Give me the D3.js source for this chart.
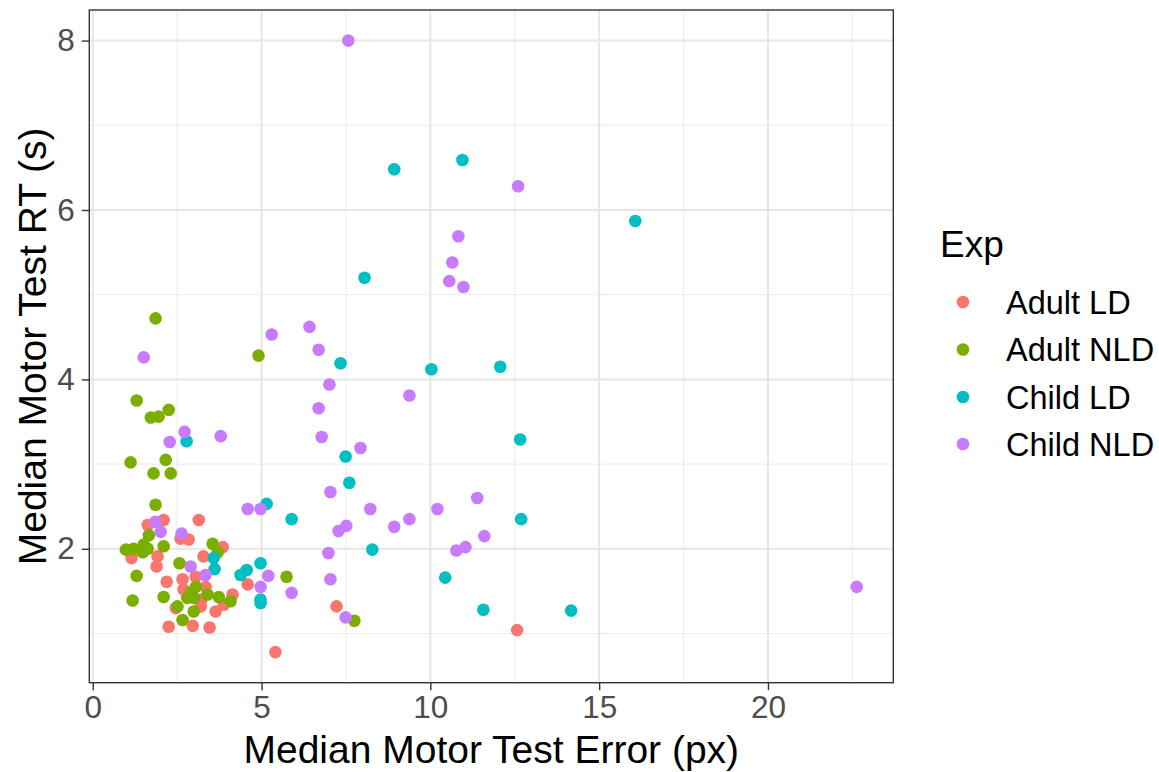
<!DOCTYPE html>
<html>
<head>
<meta charset="utf-8">
<script src="https://cdn.jsdelivr.net/npm/d3@7"></script>
<style>
  body { margin: 0; background: #fff; }
  text { font-family: "Liberation Sans", Arial, Helvetica, sans-serif; }
</style>
</head>
<body>
<div id="chart"></div>
<script>
// groups and colours (ggplot default hue palette)
const groups = ['Adult LD', 'Adult NLD', 'Child LD', 'Child NLD'];
const colors = ['#F8766D', '#7CAE00', '#00BFC4', '#C77CFF'];

// median motor test error (px) / RT (s)
const adultLD_x = [1.63, 2.10, 3.14, 2.60, 2.84, 1.15, 1.92, 1.89, 2.19, 2.66, 3.05, 3.34, 2.69, 4.14,
  3.88, 3.64, 2.46, 3.20, 2.25, 2.96, 3.46, 3.85, 3.28, 4.59, 5.41, 7.22, 12.57, 3.22];
const adultLD_y = [2.28, 2.34, 2.34, 2.12, 2.11, 1.89, 1.91, 1.79, 1.61, 1.64, 1.67, 1.55, 1.52, 1.46,
  1.34, 1.26, 1.30, 1.32, 1.08, 1.09, 1.07, 2.02, 1.91, 1.58, 0.78, 1.32, 1.04, 1.40];

const adultNLD_x = [1.86, 4.91, 1.30, 1.72, 1.95, 2.25, 1.12, 2.16, 1.80, 2.31, 1.86, 1.66, 0.98, 1.21,
  1.48, 1.63, 1.51, 2.10, 1.30, 1.18, 2.10, 2.57, 3.05, 2.90, 2.80, 3.00, 3.40, 3.73, 4.08, 2.51,
  2.99, 2.66, 3.55, 3.70, 5.74, 7.75];
const adultNLD_y = [4.72, 4.28, 3.75, 3.55, 3.56, 3.64, 3.02, 3.05, 2.89, 2.89, 2.52, 2.16, 1.99, 2.00,
  1.96, 2.00, 2.05, 2.03, 1.68, 1.39, 1.43, 1.83, 1.55, 1.48, 1.42, 1.42, 1.46, 1.43, 1.38, 1.32,
  1.26, 1.16, 2.06, 1.96, 1.67, 1.15];

const childLD_x = [8.93, 10.95, 16.07, 8.05, 7.34, 10.03, 12.07, 12.66, 2.78, 7.49, 7.60, 5.15, 5.89,
  12.69, 8.28, 10.44, 11.57, 14.17, 3.58, 3.61, 4.38, 4.56, 4.97, 4.97, 4.97];
const childLD_y = [6.48, 6.59, 5.87, 5.20, 4.19, 4.12, 4.15, 3.29, 3.27, 3.09, 2.78, 2.53, 2.35,
  2.35, 1.99, 1.66, 1.28, 1.27, 1.89, 1.76, 1.69, 1.75, 1.83, 1.40, 1.36];

const childNLD_x = [7.57, 12.60, 10.83, 10.65, 10.56, 10.98, 6.42, 5.30, 6.69, 1.51, 7.01, 9.38, 6.69,
  2.72, 3.79, 6.78, 2.28, 7.93, 7.04, 11.39, 4.59, 4.97, 8.22, 10.21, 9.38, 1.86, 7.51, 8.93, 7.28,
  2.01, 2.63, 11.60, 11.04, 10.77, 6.98, 2.90, 3.34, 5.20, 7.04, 4.97, 5.89, 7.49, 22.63];
const childNLD_y = [8.00, 6.28, 5.69, 5.38, 5.16, 5.09, 4.62, 4.53, 4.35, 4.26, 3.94, 3.81, 3.66,
  3.38, 3.33, 3.32, 3.26, 3.19, 2.67, 2.60, 2.47, 2.47, 2.47, 2.47, 2.35, 2.32, 2.27, 2.26, 2.21,
  2.20, 2.18, 2.15, 2.02, 1.98, 1.95, 1.79, 1.69, 1.68, 1.64, 1.55, 1.48, 1.19, 1.55];

const xTicks = [0, 5, 10, 15, 20];
const yTicks = [2, 4, 6, 8];
const xMinor = [2.5, 7.5, 12.5, 17.5, 22.5];
const yMinor = [1, 3, 5, 7];

// build rows
const seriesX = [adultLD_x, adultNLD_x, childLD_x, childNLD_x];
const seriesY = [adultLD_y, adultNLD_y, childLD_y, childNLD_y];
const data = [];
groups.forEach((g, i) => {
  seriesX[i].forEach((x, j) => data.push({ exp: g, x: x, y: seriesY[i][j] }));
});

const width = 1159, height = 772;
const panel = { left: 89.3, right: 893.3, top: 10, bottom: 682.7 };

const svg = d3.select('#chart').append('svg')
  .attr('width', width)
  .attr('height', height);

// ggplot style 5% expansion
function expand(ext) {
  const pad = (ext[1] - ext[0]) * 0.05;
  return [ext[0] - pad, ext[1] + pad];
}

const xScale = d3.scaleLinear()
  .domain(expand(d3.extent(data, d => d.x)))
  .range([panel.left, panel.right]);
const yScale = d3.scaleLinear()
  .domain(expand(d3.extent(data, d => d.y)))
  .range([panel.bottom, panel.top]);
const colorScale = d3.scaleOrdinal().domain(groups).range(colors);

// panel background
svg.append('rect')
  .attr('x', panel.left).attr('y', panel.top)
  .attr('width', panel.right - panel.left)
  .attr('height', panel.bottom - panel.top)
  .attr('fill', '#fff');

// grid lines
const grid = svg.append('g');
grid.selectAll('.xminor').data(xMinor).enter().append('line')
  .attr('x1', d => xScale(d)).attr('x2', d => xScale(d))
  .attr('y1', panel.top).attr('y2', panel.bottom)
  .attr('stroke', '#EBEBEB').attr('stroke-width', 1);
grid.selectAll('.yminor').data(yMinor).enter().append('line')
  .attr('y1', d => yScale(d)).attr('y2', d => yScale(d))
  .attr('x1', panel.left).attr('x2', panel.right)
  .attr('stroke', '#EBEBEB').attr('stroke-width', 1);
grid.selectAll('.xmajor').data(xTicks).enter().append('line')
  .attr('x1', d => xScale(d)).attr('x2', d => xScale(d))
  .attr('y1', panel.top).attr('y2', panel.bottom)
  .attr('stroke', '#E6E6E6').attr('stroke-width', 2);
grid.selectAll('.ymajor').data(yTicks).enter().append('line')
  .attr('y1', d => yScale(d)).attr('y2', d => yScale(d))
  .attr('x1', panel.left).attr('x2', panel.right)
  .attr('stroke', '#E6E6E6').attr('stroke-width', 2);

// points
svg.append('g').selectAll('circle')
  .data(data)
  .enter().append('circle')
    .attr('cx', d => xScale(d.x))
    .attr('cy', d => yScale(d.y))
    .attr('r', 6.3)
    .attr('fill', d => colorScale(d.exp));

// panel border
svg.append('rect')
  .attr('x', panel.left).attr('y', panel.top)
  .attr('width', panel.right - panel.left)
  .attr('height', panel.bottom - panel.top)
  .attr('fill', 'none')
  .attr('stroke', '#333333')
  .attr('stroke-width', 1.4);

// axes
const xAxis = d3.axisBottom(xScale).tickValues(xTicks).tickSize(7.5).tickPadding(5);
const yAxis = d3.axisLeft(yScale).tickValues(yTicks).tickSize(7.5).tickPadding(7);

const gx = svg.append('g')
  .attr('transform', `translate(0,${panel.bottom})`)
  .call(xAxis);
const gy = svg.append('g')
  .attr('transform', `translate(${panel.left},0)`)
  .call(yAxis);

[gx, gy].forEach(g => {
  g.select('.domain').remove();
  g.selectAll('.tick line').attr('stroke', '#333333').attr('stroke-width', 1.4);
  g.selectAll('.tick text')
    .attr('fill', '#4D4D4D')
    .style('font-size', '31.5px');
});

// axis titles
svg.append('text')
  .attr('x', (panel.left + panel.right) / 2)
  .attr('y', 763)
  .attr('text-anchor', 'middle')
  .style('font-size', '39px')
  .attr('fill', '#000')
  .text('Median Motor Test Error (px)');

svg.append('text')
  .attr('transform', `translate(46,${(panel.top + panel.bottom) / 2}) rotate(-90)`)
  .attr('text-anchor', 'middle')
  .style('font-size', '39px')
  .attr('fill', '#000')
  .text('Median Motor Test RT (s)');

// legend
const legend = svg.append('g');
legend.append('text')
  .attr('x', 940)
  .attr('y', 257)
  .style('font-size', '37px')
  .text('Exp');

const keyY = [302, 349.5, 397, 444];
groups.forEach((g, i) => {
  legend.append('circle')
    .attr('cx', 963).attr('cy', keyY[i])
    .attr('r', 6.3)
    .attr('fill', colorScale(g));
  legend.append('text')
    .attr('x', 1006).attr('y', keyY[i])
    .attr('dy', '0.36em')
    .style('font-size', '32.5px')
    .text(g);
});
</script>
</body>
</html>
